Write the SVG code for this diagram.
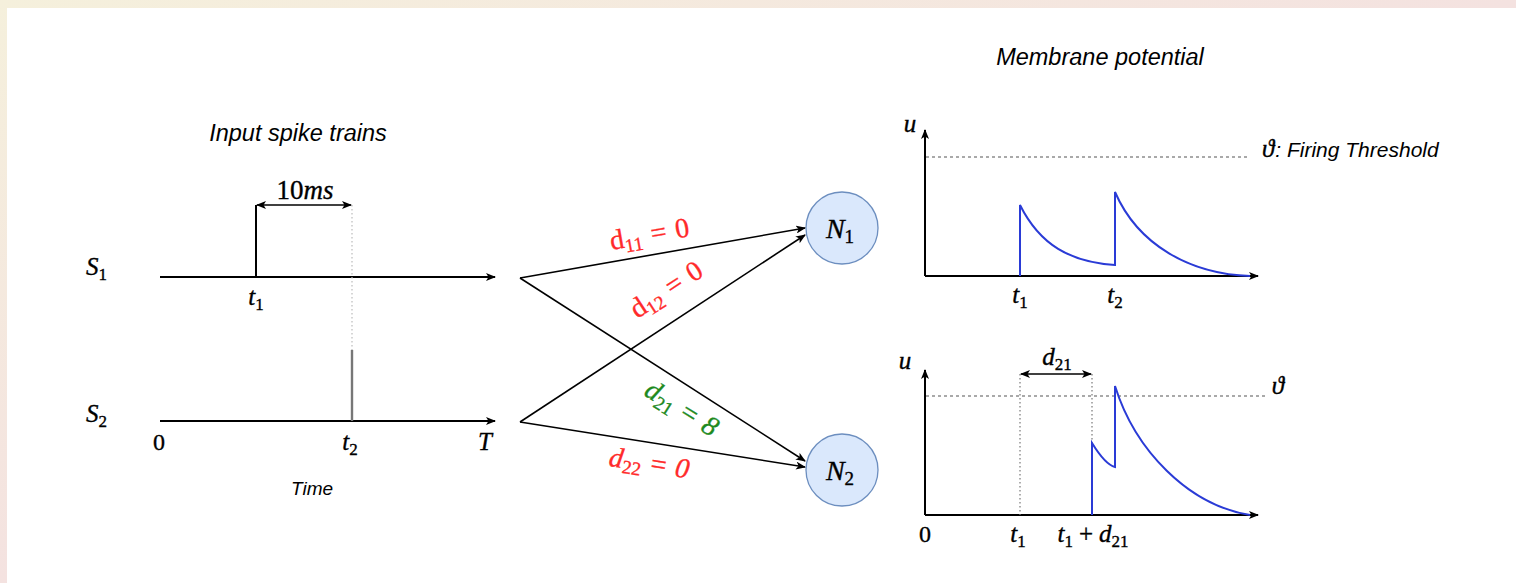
<svg xmlns="http://www.w3.org/2000/svg" width="1516" height="583" viewBox="0 0 1516 583">
<defs>
<linearGradient id="bg" x1="0" y1="0" x2="1" y2="1">
<stop offset="0" stop-color="#f5f0dc"/><stop offset="0.5" stop-color="#f4e2e0"/><stop offset="1" stop-color="#f2cfd8"/>
</linearGradient>
<marker id="arr" viewBox="0 0 10 8" refX="9" refY="4" markerWidth="10" markerHeight="8" markerUnits="userSpaceOnUse" orient="auto-start-reverse">
<path d="M0,0 L10,4 L0,8 L2.5,4 z" fill="#000"/>
</marker>
<style>
.ax{stroke:#000;stroke-width:2;fill:none}
.cn{stroke:#000;stroke-width:1.6;fill:none}
.th{stroke:#555;stroke-width:1.2;stroke-dasharray:3 3;fill:none}
.dt{stroke:#777;stroke-width:1.2;stroke-dasharray:1.5 2.5;fill:none}
.bl{stroke:#2a3bd6;stroke-width:2;fill:none}
.m{font-family:"Liberation Serif","DejaVu Serif",serif;font-style:italic;font-size:25px;fill:#000;stroke:#000;stroke-width:0.35}
.mn{font-family:"Liberation Serif","DejaVu Serif",serif;font-size:24px;fill:#000;stroke:#000;stroke-width:0.35}
.s{font-family:"Liberation Sans",Arial,sans-serif;font-style:italic;font-size:22px;fill:#000}
.sub{font-size:17px;font-style:normal}
.lb{font-size:28px}
.lb .sub{font-size:19px}
.nd{fill:#dae8fc;stroke:#6c8ebf;stroke-width:1.3}
.r{fill:#ff2a2a;stroke:#ff2a2a}
.g{fill:#1e8a1e;stroke:#1e8a1e}
</style>
</defs>
<rect x="0" y="0" width="1516" height="583" fill="url(#bg)"/>
<rect x="7" y="8" width="1509" height="575" fill="#fff"/>

<!-- titles -->
<text class="s" x="298" y="141" text-anchor="middle" style="font-size:23.5px">Input spike trains</text>
<text class="s" x="1100" y="65" text-anchor="middle" style="font-size:23.5px">Membrane potential</text>
<text class="s" x="312" y="495" text-anchor="middle" style="font-size:19px">Time</text>

<!-- left spike trains -->
<g id="spike-trains">
<text class="m" x="86" y="275">S<tspan class="sub" dy="5">1</tspan></text>
<text class="m" x="86" y="422">S<tspan class="sub" dy="5">2</tspan></text>
<line class="ax" x1="160" y1="277" x2="495" y2="277" marker-end="url(#arr)"/>
<line class="ax" x1="160" y1="421" x2="495" y2="421" marker-end="url(#arr)"/>
<line class="ax" x1="256" y1="277" x2="256" y2="205"/>
<line class="dt" x1="352" y1="205" x2="352" y2="350" style="stroke:#bbb"/>
<line x1="352" y1="350" x2="352" y2="421" stroke="#777" stroke-width="2.4"/>
<line class="cn" x1="257" y1="205" x2="351" y2="205" marker-start="url(#arr)" marker-end="url(#arr)"/>
<text class="m" x="305" y="199" text-anchor="middle" style="font-size:27px"><tspan font-style="normal">10</tspan>ms</text>
<text class="m" x="256" y="305" text-anchor="middle">t<tspan class="sub" dy="5">1</tspan></text>
<text class="mn" x="159" y="450" text-anchor="middle">0</text>
<text class="m" x="350" y="450" text-anchor="middle">t<tspan class="sub" dy="5">2</tspan></text>
<text class="m" x="485" y="450" text-anchor="middle">T</text>
</g>

<!-- nodes -->
<g id="N1">
<circle class="nd" cx="842" cy="228" r="36"/>
<text class="m lb" x="840" y="238" text-anchor="middle">N<tspan class="sub" dy="5">1</tspan></text>
</g>
<g id="N2">
<circle class="nd" cx="842" cy="470" r="36"/>
<text class="m lb" x="840" y="480" text-anchor="middle">N<tspan class="sub" dy="5">2</tspan></text>
</g>

<!-- connectors -->
<g id="connectors">
<line class="cn" x1="520" y1="278" x2="805" y2="228" marker-end="url(#arr)"/>
<line class="cn" x1="520" y1="422" x2="805" y2="235" marker-end="url(#arr)"/>
<line class="cn" x1="520" y1="278" x2="805" y2="461" marker-end="url(#arr)"/>
<line class="cn" x1="520" y1="422" x2="805" y2="467" marker-end="url(#arr)"/>
<text class="mn lb r" transform="translate(651,243) rotate(-10)" text-anchor="middle">d<tspan class="sub" dy="5">11</tspan><tspan dy="-5" dx="9">=</tspan><tspan dx="9">0</tspan></text>
<text class="mn lb r" transform="translate(671,297) rotate(-33)" text-anchor="middle">d<tspan class="sub" dy="5">12</tspan><tspan dy="-5" dx="9">=</tspan><tspan dx="9">0</tspan></text>
<text class="m lb g" transform="translate(677,416) rotate(32)" text-anchor="middle">d<tspan class="sub" dy="5">21</tspan><tspan dy="-5" dx="9" font-style="normal">=</tspan><tspan dx="9">8</tspan></text>
<text class="m lb r" transform="translate(648,472) rotate(9)" text-anchor="middle">d<tspan class="sub" dy="5">22</tspan><tspan dy="-5" dx="9" font-style="normal">=</tspan><tspan dx="9">0</tspan></text>
</g>

<!-- top membrane plot -->
<g id="plot-top">
<line class="ax" x1="925" y1="276" x2="925" y2="130" marker-end="url(#arr)"/>
<line class="ax" x1="925" y1="276" x2="1258" y2="276" marker-end="url(#arr)"/>
<line class="th" x1="926" y1="157" x2="1250" y2="157"/>
<text class="m" x="910" y="132" text-anchor="middle">u</text>
<text class="m" x="1262" y="157">ϑ<tspan class="s" dx="1" style="font-size:21px;stroke:none">: Firing Threshold</tspan></text>
<path class="bl" d="M1020,276 V205 C1040,245 1070,262 1115,265 V192 C1138,245 1190,274 1250,276"/>
<text class="m" x="1020" y="303" text-anchor="middle">t<tspan class="sub" dy="5">1</tspan></text>
<text class="m" x="1115" y="303" text-anchor="middle">t<tspan class="sub" dy="5">2</tspan></text>
</g>

<!-- bottom membrane plot -->
<g id="plot-bottom">
<line class="ax" x1="925" y1="515" x2="925" y2="370" marker-end="url(#arr)"/>
<line class="ax" x1="925" y1="515" x2="1258" y2="515" marker-end="url(#arr)"/>
<line class="th" x1="926" y1="396" x2="1265" y2="396"/>
<line class="dt" x1="1020" y1="374" x2="1020" y2="515"/>
<line class="dt" x1="1092" y1="374" x2="1092" y2="515"/>
<line class="cn" x1="1021" y1="374" x2="1091" y2="374" marker-start="url(#arr)" marker-end="url(#arr)"/>
<text class="m" x="1057" y="365" text-anchor="middle">d<tspan class="sub" dy="5">21</tspan></text>
<text class="m" x="905" y="369" text-anchor="middle">u</text>
<text class="m" x="1278" y="394" text-anchor="middle">ϑ</text>
<path class="bl" d="M1092,515 V443 C1100,456 1107,465 1115,467 V386 C1135,450 1188,505 1250,515"/>
<text class="mn" x="925" y="542" text-anchor="middle">0</text>
<text class="m" x="1018" y="542" text-anchor="middle">t<tspan class="sub" dy="5">1</tspan></text>
<text class="m" x="1093" y="542" text-anchor="middle">t<tspan class="sub" dy="5">1</tspan><tspan dy="-5" dx="6" font-style="normal">+</tspan><tspan dx="6">d</tspan><tspan class="sub" dy="5">21</tspan></text>
</g>
</svg>
